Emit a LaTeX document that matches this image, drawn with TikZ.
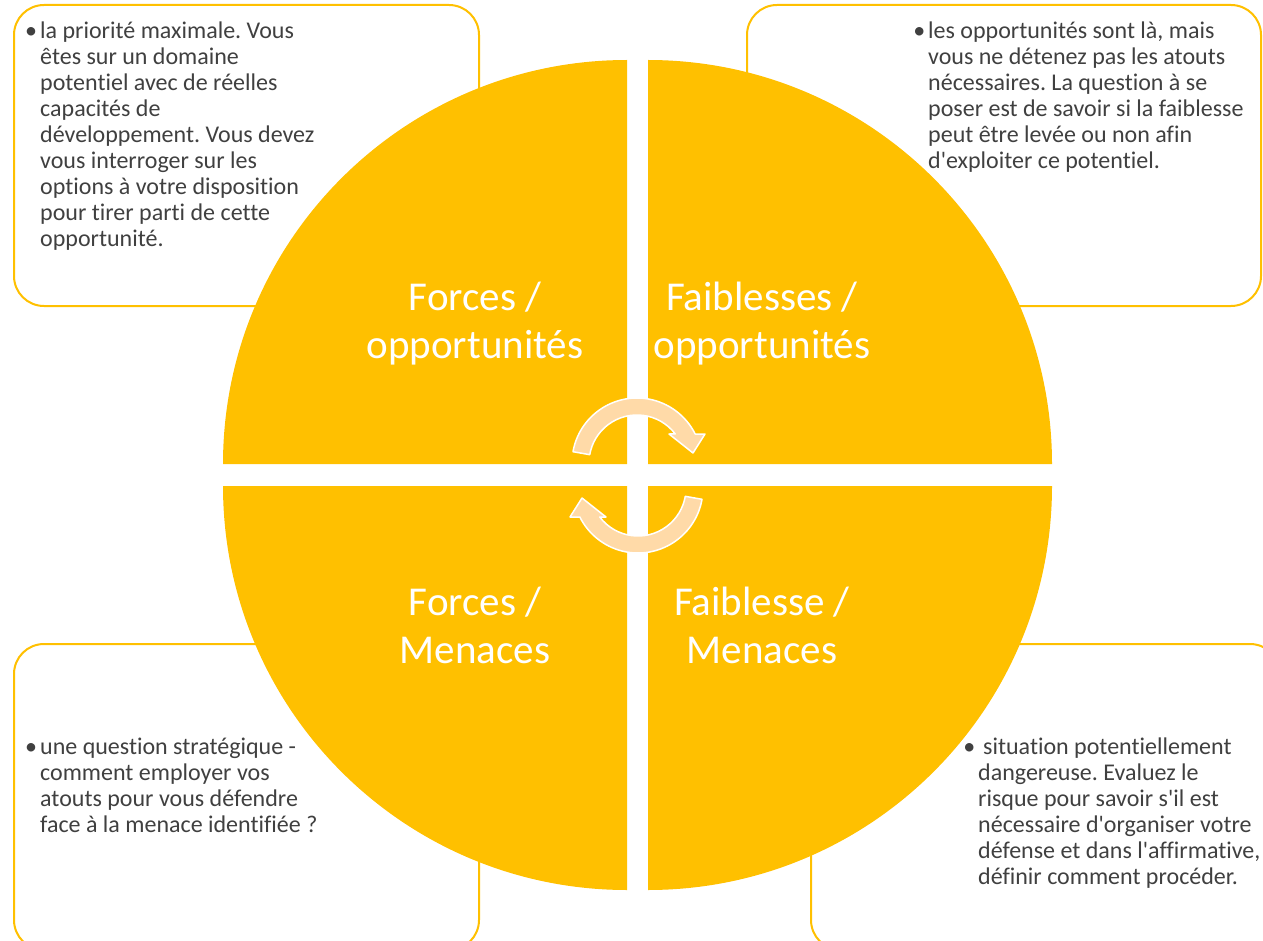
\documentclass[tikz,border=0pt]{standalone}
\usepackage{fontspec}
\setmainfont{Carlito}[Ligatures=NoCommon]
\frenchspacing
\definecolor{gold}{HTML}{FFC000}
\definecolor{peach}{HTML}{FFDAA8}
\definecolor{bodytext}{HTML}{404040}
\begin{document}
\begin{tikzpicture}[x=1pt,y=-1pt,
  infobox/.style={draw=gold, line width=2pt, fill=white, rounded corners=30pt},
  quad/.style={fill=gold},
  lbl/.style={text=white, font=\fontsize{41}{48}\selectfont, align=center, inner sep=0, anchor=base},
  body/.style={text=bodytext, font=\fontsize{24}{26}\selectfont, align=left, inner sep=0, anchor=base west},
  cyc/.style={fill=peach, draw=white, line width=1.5pt, line join=round}]
\useasboundingbox (0,0) rectangle (1263,941);
\clip (0,0) rectangle (1263,941);
\fill[white] (0,0) rectangle (1263,941);
% boxes
\draw[infobox] (14,5) rectangle (479,306);
\draw[infobox] (747,5) rectangle (1261,306);
\draw[infobox] (14,644) rectangle (479,950);
\draw[infobox] (811,644) rectangle (1280,950);
% quadrants
\fill[quad] (627,464) -- (223,464) arc[start angle=180, end angle=270, radius=404] -- cycle;
\fill[quad] (648,464) -- (648,60) arc[start angle=270, end angle=360, radius=404] -- cycle;
\fill[quad] (648,486) -- (1052,486) arc[start angle=0, end angle=90, radius=404] -- cycle;
\fill[quad] (627,486) -- (627,890) arc[start angle=90, end angle=180, radius=404] -- cycle;
% labels (anchor base = last line baseline)
\node[lbl] (l1) at (475,358) {Forces /\\opportunités};
\node[lbl] (l2) at (762,358) {Faiblesses /\\opportunités};
\node[lbl] (l3) at (475,663) {Forces /\\Menaces};
\node[lbl] (l4) at (762,663) {Faiblesse /\\Menaces};
% cycle arrows
\path[cyc] ([shift={(637,463)}]190:65) arc[start angle=190, end angle=333.5, radius=65]
  -- (705,434) -- (693,453) -- (669,434)
  -- ([shift={(637,463)}]322.8:48) arc[start angle=322.8, end angle=190, radius=48] -- cycle;
\begin{scope}[rotate around={180:(637.5,475.5)}]
\path[cyc] ([shift={(637,463)}]190:65) arc[start angle=190, end angle=333.5, radius=65]
  -- (705,434) -- (693,453) -- (669,434)
  -- ([shift={(637,463)}]322.8:48) arc[start angle=322.8, end angle=190, radius=48] -- cycle;
\end{scope}
% texts (anchor base = last line baseline)
\node[body] (t1) at (40,247) {\llap{•\hspace{3pt}}la priorité maximale. Vous\\êtes sur un domaine\\potentiel avec de réelles\\capacités de\\développement. Vous devez\\vous interroger sur les\\options à votre disposition\\pour tirer parti de cette\\opportunité.};
\node[body] (t2) at (928,169) {\llap{•\hspace{3pt}}les opportunités sont là, mais\\vous ne détenez pas les atouts\\nécessaires. La question à se\\poser est de savoir si la faiblesse\\peut être levée ou non afin\\d\textquotesingle exploiter ce potentiel.};
\node[body] (t3) at (40,832) {\llap{•\hspace{3pt}}une question stratégique -\\comment employer vos\\atouts pour vous défendre\\face à la menace identifiée ?};
\node[body] (t4) at (978,884) {\llap{•\hspace{3pt}}\hspace{5pt}situation potentiellement\\dangereuse. Evaluez le\\risque pour savoir s\textquotesingle il est\\nécessaire d\textquotesingle organiser votre\\défense et dans l\textquotesingle affirmative,\\définir comment procéder.};
\end{tikzpicture}
\end{document}
